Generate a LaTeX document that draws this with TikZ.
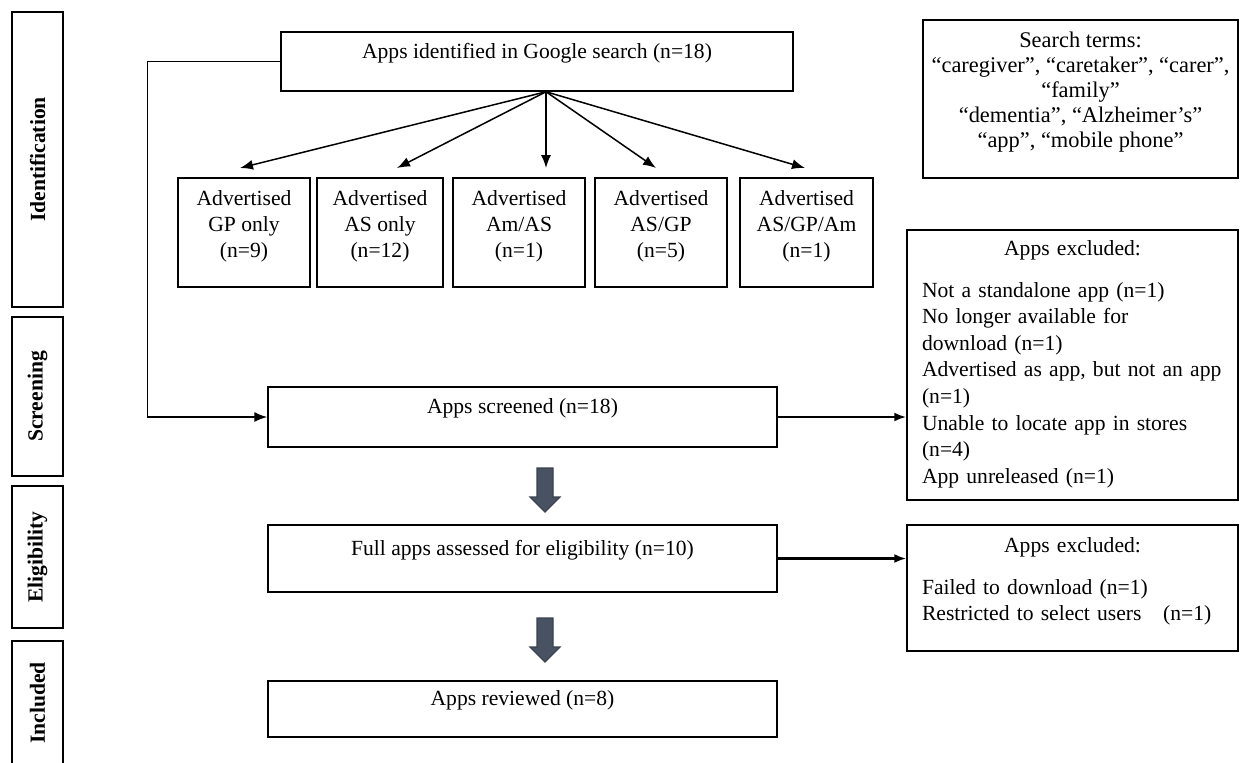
\documentclass[tikz,border=0pt]{standalone}
\usepackage{fontspec}
\setmainfont{Liberation Serif}
\usetikzlibrary{arrows.meta,calc}
\definecolor{slate}{RGB}{72,82,98}

\begin{document}
\begin{tikzpicture}[x=0.5pt,y=-0.5pt,line width=0.75pt,font=\fontsize{10.8}{13}\selectfont,
  phase/.style={draw,rotate=90,inner sep=0pt,font=\fontsize{10.8}{13}\selectfont\bfseries},
  flow/.style={draw,inner sep=0pt,text height=8pt,text depth=11.5pt},
  group/.style={draw,inner sep=0pt,align=center,text height=26.5pt,text depth=2pt,minimum height=54.5pt},
  note/.style={draw,inner xsep=7.5pt,inner ysep=0pt,text height=8pt},
  arr/.style={-{Latex[length=6.5pt,width=5pt]}},
  thickarr/.style={line width=1.1pt,-{Latex[length=6pt,width=4.5pt]}},
  bigarr/.style={fill=slate,draw=slate!80!black,line width=0.6pt}]
\useasboundingbox (0,0) rectangle (1240,762);
\node[phase,minimum width=147.5pt,minimum height=25.5pt] (ident) at (37.5,159.5) {Identification};
\node[phase,minimum width=79.5pt,minimum height=25.5pt] (screen) at (37.5,396.5) {Screening};
\node[phase,minimum width=71pt,minimum height=25.5pt] (elig) at (37.5,557) {Eligibility};
\node[phase,minimum width=62pt,minimum height=25.5pt] (incl) at (37.5,703) {Included};
\node[flow,minimum width=256pt,minimum height=29.5pt] (found) at (537,61.5) {Apps identified in Google search (n=18)};
\node[group,minimum width=66pt] (gp) at (244,232.5) {Advertised\\GP only\\(n=9)};
\node[group,minimum width=63pt] (as) at (380,232.5) {Advertised\\AS only\\(n=12)};
\node[group,minimum width=66pt] (amas) at (519,232.5) {Advertised\\Am/AS\\(n=1)};
\node[group,minimum width=66pt] (asgp) at (661,232.5) {Advertised\\AS/GP\\(n=5)};
\node[group,minimum width=66.5pt] (asgpam) at (806.5,232.5) {Advertised\\AS/GP/Am\\(n=1)};
\node[note,inner xsep=2pt,align=center,minimum width=157.5pt,minimum height=79pt,text height=50pt,text depth=2pt,
  font=\fontsize{11.2}{12.5}\selectfont] (terms) at (1080.5,99)
  {Search terms:\\“caregiver”, “caretaker”, “carer”,\\“family”\\“dementia”, “Alzheimer’s”\\“app”, “mobile phone”};
\node[flow,minimum width=254.5pt,minimum height=30pt] (screened) at (522.5,417) {Apps screened (n=18)};
\node[flow,minimum width=254.5pt,minimum height=33.5pt] (full) at (522.5,558.5) {Full apps assessed for eligibility (n=10)};
\node[flow,minimum width=254.5pt,minimum height=28pt] (reviewed) at (522.5,709) {Apps reviewed (n=8)};
\node[note,text width=150.5pt,align=left,minimum height=135pt,text depth=118pt,font=\fontsize{10.8}{13.3}\selectfont] (drop1) at (1072.5,365)
  {\hbox to 150.5pt{\hfil Apps excluded:\hfil}\\[7.7pt]
   Not a standalone app (n=1)\\No longer available for\\download (n=1)\\Advertised as app, but not an app\\(n=1)\\
   Unable to locate app in stores\\(n=4)\\App unreleased (n=1)};
\node[note,text width=150.5pt,align=left,minimum height=63pt,text depth=44pt,font=\fontsize{10.8}{13.3}\selectfont] (drop2) at (1072.5,588)
  {\hbox to 150.5pt{\hfil Apps excluded:\hfil}\\[7.7pt]
   Failed to download (n=1)\\Restricted to select users\ \ \ (n=1)};
\coordinate (fan) at ($(found.south)+(9,0)$);
\coordinate (t1) at (240,168); \coordinate (t2) at (397,168); \coordinate (t3) at (546,168);
\coordinate (t4) at (656,168); \coordinate (t5) at (805,168);
\foreach \t in {t1,t2,t3,t4,t5}{\draw[arr] (fan) -- (\t);}
\draw[arr] (found.west) -- ++(-133,0) |- (screened.west);
\draw[thickarr] (screened.east) -- (screened.east -| drop1.west);
\draw[thickarr] (full.east) -- (full.east -| drop2.west);
\coordinate (d1) at (545,468); \coordinate (d2) at (545,618);
\foreach \d in {d1,d2}{\draw[bigarr] (\d) ++(-8,0) -- ++(16,0) -- ++(0,29) -- ++(7,0) -- ++(-15,15) -- ++(-15,-15) -- ++(7,0) -- cycle;}
\end{tikzpicture}
\end{document}
